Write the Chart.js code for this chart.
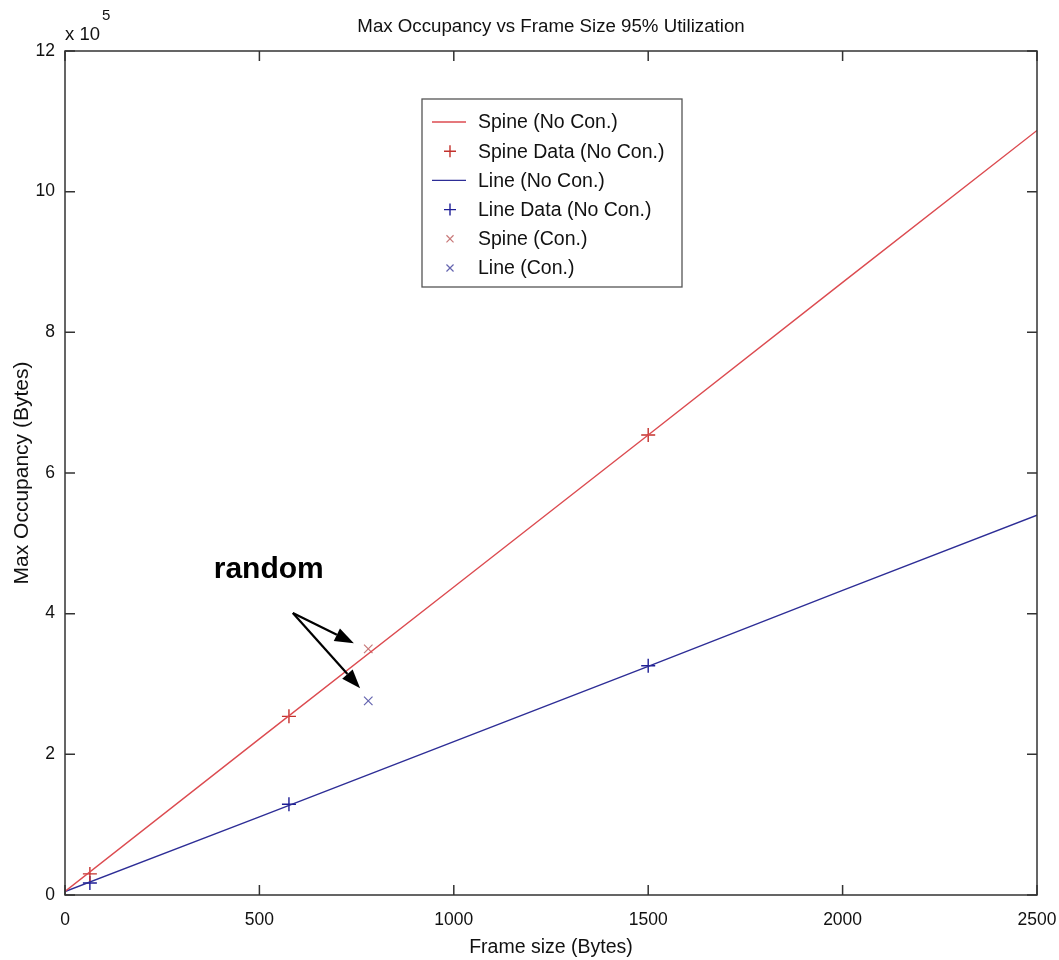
<!DOCTYPE html>
<html><head><meta charset="utf-8">
<script src="https://cdn.jsdelivr.net/npm/chart.js@4.4.0/dist/chart.umd.min.js"></script>
<style>html,body{margin:0;padding:0;background:#fff}#wrap{width:1059px;height:960px;position:relative}</style>
</head><body><div id="wrap"><canvas id="c"></canvas></div>
<script>
// ---- data ----
const frameModel = [0, 500, 1000, 1500, 2000, 2500];
const spineModel = [5000, 222000, 438000, 654000, 871000, 1087000];
const lineModel  = [5000, 111000, 218000, 325000, 433000, 540000];
const frameData  = [64, 576, 1500];
const spineData  = [30000, 254000, 654000];
const lineData   = [17000, 129000, 326000];
const frameCon   = [780];
const spineCon   = [350000];
const lineCon    = [276000];
const xTicks = [0, 500, 1000, 1500, 2000, 2500];
const yTicks = [0, 200000, 400000, 600000, 800000, 1000000, 1200000];
const seriesNames = ['Spine (No Con.)', 'Spine Data (No Con.)', 'Line (No Con.)', 'Line Data (No Con.)', 'Spine (Con.)', 'Line (Con.)'];
const titleText = 'Max Occupancy vs Frame Size 95% Utilization';
const xTitle = 'Frame size (Bytes)';
const yTitle = 'Max Occupancy (Bytes)';
const annotationText = 'random';
// annotation anchors in data units
const annText = [524, 451000];
const arrowTail = [586, 401000];
const arrowTips = [[743, 358000], [759, 294000]];

const FONT = '"Liberation Sans", Arial, Helvetica, sans-serif';
const pts = (xs, ys) => xs.map((x, i) => ({x: x, y: ys[i]}));

const datasets = [
  {label: seriesNames[0], data: pts(frameModel, spineModel), showLine: true, borderColor: 'rgb(220,75,80)', borderWidth: 1.4, pointRadius: 0, _kind: 'line'},
  {label: seriesNames[1], data: pts(frameData, spineData), showLine: false, pointStyle: 'cross', pointRadius: 7, borderColor: 'rgb(195,50,45)', borderWidth: 1.4, _kind: 'pt'},
  {label: seriesNames[2], data: pts(frameModel, lineModel), showLine: true, borderColor: 'rgb(45,45,150)', borderWidth: 1.4, pointRadius: 0, _kind: 'line'},
  {label: seriesNames[3], data: pts(frameData, lineData), showLine: false, pointStyle: 'cross', pointRadius: 7, borderColor: 'rgb(30,30,150)', borderWidth: 1.4, _kind: 'pt'},
  {label: seriesNames[4], data: pts(frameCon, spineCon), showLine: false, pointStyle: 'crossRot', pointRadius: 6, borderColor: 'rgb(200,120,120)', borderWidth: 1.2, _kind: 'pt'},
  {label: seriesNames[5], data: pts(frameCon, lineCon), showLine: false, pointStyle: 'crossRot', pointRadius: 6, borderColor: 'rgb(100,100,175)', borderWidth: 1.2, _kind: 'pt'}
];

const framePlugin = {
  id: 'frame',
  afterDatasetsDraw(chart) {
    const {ctx, chartArea: a, scales: {x, y}} = chart;
    ctx.save();
    ctx.strokeStyle = '#333';
    ctx.lineWidth = 1.5;
    ctx.strokeRect(a.left, a.top, a.right - a.left, a.bottom - a.top);
    const L = 10;
    ctx.beginPath();
    x.ticks.forEach(t => {
      const px = x.getPixelForValue(t.value);
      ctx.moveTo(px, a.bottom); ctx.lineTo(px, a.bottom - L);
      ctx.moveTo(px, a.top); ctx.lineTo(px, a.top + L);
    });
    y.ticks.forEach(t => {
      const py = y.getPixelForValue(t.value);
      ctx.moveTo(a.left, py); ctx.lineTo(a.left + L, py);
      ctx.moveTo(a.right, py); ctx.lineTo(a.right - L, py);
    });
    ctx.stroke();
    ctx.restore();
  },
  afterDraw(chart) {
    const {ctx, chartArea: a, scales: {x, y}} = chart;
    ctx.save();
    // title
    ctx.fillStyle = '#111';
    ctx.font = '18.7px ' + FONT;
    ctx.textAlign = 'center';
    ctx.textBaseline = 'middle';
    ctx.fillText(titleText, (a.left + a.right) / 2, 27);
    // exponent
    ctx.textAlign = 'left';
    ctx.font = '18.5px ' + FONT;
    ctx.fillText('x 10', a.left, 35);
    ctx.font = '15px ' + FONT;
    ctx.fillText('5', a.left + 37, 16);

    // legend
    const bx = a.left + 357, by = a.top + 48, bw = 260, bh = 188;
    ctx.fillStyle = '#fff';
    ctx.fillRect(bx, by, bw, bh);
    ctx.strokeStyle = '#555';
    ctx.lineWidth = 1.3;
    ctx.strokeRect(bx, by, bw, bh);
    chart.data.datasets.forEach((ds, i) => {
      const ry = by + 23 + i * 29.2;
      ctx.strokeStyle = ds.borderColor;
      ctx.lineWidth = ds.borderWidth;
      if (ds._kind === 'line') {
        ctx.beginPath(); ctx.moveTo(bx + 10, ry); ctx.lineTo(bx + 44, ry); ctx.stroke();
      } else {
        Chart.helpers.drawPoint(ctx, {pointStyle: ds.pointStyle, radius: ds.pointRadius - 1, rotation: 0, borderWidth: ds.borderWidth}, bx + 28, ry);
      }
      ctx.fillStyle = '#111';
      ctx.font = '19.5px ' + FONT;
      ctx.textAlign = 'left';
      ctx.textBaseline = 'middle';
      ctx.fillText(ds.label, bx + 56, ry + 1);
    });

    // annotation
    ctx.fillStyle = '#000';
    ctx.font = 'bold 30px ' + FONT;
    ctx.textAlign = 'center';
    ctx.textBaseline = 'alphabetic';
    ctx.fillText(annotationText, x.getPixelForValue(annText[0]), y.getPixelForValue(annText[1]));
    const tx = x.getPixelForValue(arrowTail[0]), ty = y.getPixelForValue(arrowTail[1]);
    arrowTips.forEach(tp => {
      const hx = x.getPixelForValue(tp[0]), hy = y.getPixelForValue(tp[1]);
      const ang = Math.atan2(hy - ty, hx - tx);
      const hl = 19, hw = 7;
      const bxp = hx - hl * Math.cos(ang), byp = hy - hl * Math.sin(ang);
      ctx.strokeStyle = '#000'; ctx.lineWidth = 2.2;
      ctx.beginPath(); ctx.moveTo(tx, ty); ctx.lineTo(bxp, byp); ctx.stroke();
      ctx.beginPath();
      ctx.moveTo(hx, hy);
      ctx.lineTo(bxp + hw * Math.sin(ang), byp - hw * Math.cos(ang));
      ctx.lineTo(bxp - hw * Math.sin(ang), byp + hw * Math.cos(ang));
      ctx.closePath(); ctx.fill();
    });
    ctx.restore();
  }
};

new Chart(document.getElementById('c'), {
  type: 'scatter',
  data: {datasets: datasets},
  options: {
    responsive: true, maintainAspectRatio: false, animation: false, devicePixelRatio: 1,
    layout: {padding: {top: 51, right: 22, left: 0, bottom: 0}},
    plugins: {legend: {display: false}, tooltip: {enabled: false}, title: {display: false}},
    scales: {
      x: {
        type: 'linear', min: 0, max: 2500,
        grid: {display: false, drawTicks: false}, border: {display: false},
        afterBuildTicks: s => { s.ticks = xTicks.map(v => ({value: v})); },
        ticks: {color: '#111', font: {size: 17.5, family: FONT}, padding: 15, maxRotation: 0, autoSkip: false, callback: v => String(v)},
        title: {display: true, text: xTitle, color: '#111', font: {size: 19.5, family: FONT}, padding: {top: 0, bottom: 1}},
        afterFit: s => { s.height = 65; s.paddingLeft = 0; s.paddingRight = 0; }
      },
      y: {
        type: 'linear', min: 0, max: 1200000,
        grid: {display: false, drawTicks: false}, border: {display: false},
        afterBuildTicks: s => { s.ticks = yTicks.map(v => ({value: v})); },
        ticks: {color: '#111', font: {size: 17.5, family: FONT}, padding: 10, autoSkip: false, callback: v => String(v / 100000)},
        title: {display: true, text: yTitle, color: '#111', font: {size: 21, family: FONT}, padding: {top: 10, bottom: 0}},
        afterFit: s => { s.width = 65; s.paddingTop = 0; s.paddingBottom = 0; }
      }
    }
  },
  plugins: [framePlugin]
});
</script>
</body></html>
